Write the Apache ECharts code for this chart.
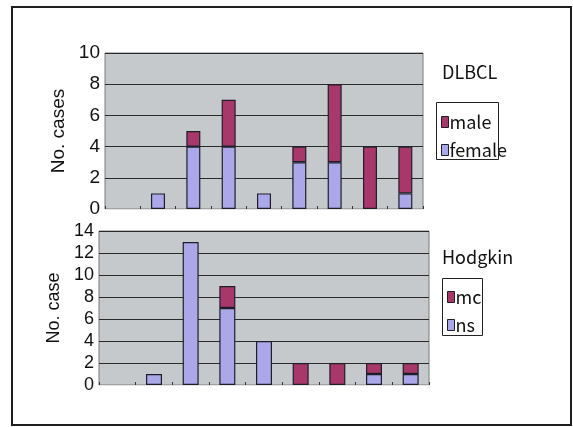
<!DOCTYPE html>
<html>
<head>
<meta charset="utf-8">
<script src="https://cdn.jsdelivr.net/npm/echarts@6/dist/echarts.min.js"></script>
<style>
  html, body { margin: 0; padding: 0; background: #fff; }
  #chart { width: 573px; height: 427px; }
</style>
</head>
<body>
<div id="chart"></div>
<script>
// Nine groups along the x axis (labels not shown)
const groups = ['1', '2', '3', '4', '5', '6', '7', '8', '9'];

// DLBCL cases by sex
const dlbclFemale = [0, 1, 4, 4, 1, 3, 3, 0, 1];
const dlbclMale   = [0, 0, 1, 3, 0, 1, 5, 4, 3];

// Hodgkin cases by subtype
const hodgkinNs = [0, 1, 13, 7, 4, 0, 0, 1, 1];
const hodgkinMc = [0, 0, 0, 2, 0, 2, 2, 1, 1];

const dlbclTicks = { min: 0, max: 10, interval: 2 };
const hodgkinTicks = { min: 0, max: 14, interval: 2 };

const MALE = '#a8386a';
const FEMALE = '#aaa8e8';
const PLOT_BG = '#c6c9cc';
const LABEL_FONT = '"Liberation Sans", Arial, sans-serif';
const TEXT_FONT = '"Noto Sans CJK JP", "Liberation Sans", sans-serif';

const chart = echarts.init(document.getElementById('chart'), null, { renderer: 'canvas' });

// empty counts are skipped so no zero-height outline is drawn
const nonZero = arr => arr.map(v => (v === 0 ? '-' : v));

function xAxisFor(gridIndex) {
  return {
    type: 'category',
    gridIndex,
    data: groups,
    boundaryGap: true,
    axisLine: { show: true, lineStyle: { color: '#e4e4e4', width: 1 } },
    axisTick: { show: true, inside: true, length: 3, interval: 0, lineStyle: { color: '#333' } },
    axisLabel: { show: false },
    splitLine: { show: false }
  };
}

function yAxisFor(gridIndex, ticks, name, fontSize, nameSize, nameGap) {
  return {
    type: 'value',
    gridIndex,
    min: ticks.min,
    max: ticks.max,
    interval: ticks.interval,
    name,
    nameLocation: 'middle',
    nameGap,
    nameTextStyle: { fontFamily: LABEL_FONT, fontSize: nameSize, color: '#111' },
    axisLine: { show: false },
    axisTick: { show: false },
    axisLabel: { fontFamily: LABEL_FONT, fontSize, color: '#111', margin: 5 },
    splitLine: { show: true, lineStyle: { color: '#2a2a2a', width: 1 } }
  };
}

function barSeries(name, data, color, axisIndex, stack, width) {
  return {
    type: 'bar',
    name,
    data: nonZero(data),
    stack,
    xAxisIndex: axisIndex,
    yAxisIndex: axisIndex,
    barWidth: width,
    itemStyle: { color, borderColor: '#1e1e2a', borderWidth: 1.2 },
    emphasis: { disabled: true },
    animation: false
  };
}

function legendAt(names, left, top) {
  return {
    data: names,
    orient: 'vertical',
    left,
    top,
    padding: 0,
    itemWidth: 7,
    itemHeight: 11,
    itemGap: 10,
    icon: 'rect',
    selectedMode: false,
    textStyle: { fontFamily: TEXT_FONT, fontSize: 18, color: '#111', lineHeight: 18, padding: [0, 0, 0, -4] },
    itemStyle: { borderColor: '#1e1e2a', borderWidth: 1 }
  };
}

chart.setOption({
  backgroundColor: '#fff',
  animation: false,
  title: [
    { text: 'DLBCL', left: 442, top: 63, padding: 0,
      textStyle: { fontFamily: TEXT_FONT, fontSize: 18, fontWeight: 'normal', color: '#111' } },
    { text: 'Hodgkin', left: 442, top: 248, padding: 0,
      textStyle: { fontFamily: TEXT_FONT, fontSize: 18, fontWeight: 'normal', color: '#111' } }
  ],
  legend: [
    legendAt(['male', 'female'], 441, 113),
    legendAt(['mc', 'ns'], 447, 288)
  ],
  grid: [
    { left: 105, top: 53, width: 318, height: 156, show: true,
      backgroundColor: PLOT_BG, borderColor: '#7a7a7a', borderWidth: 1 },
    { left: 99, top: 231, width: 330, height: 154, show: true,
      backgroundColor: PLOT_BG, borderColor: '#7a7a7a', borderWidth: 1 }
  ],
  xAxis: [xAxisFor(0), xAxisFor(1)],
  yAxis: [
    yAxisFor(0, dlbclTicks, 'No. cases', 19, 19, 26),
    yAxisFor(1, hodgkinTicks, 'No. case', 18, 18, 23)
  ],
  series: [
    barSeries('female', dlbclFemale, FEMALE, 0, 'dlbcl', 14),
    barSeries('male', dlbclMale, MALE, 0, 'dlbcl', 14),
    barSeries('ns', hodgkinNs, FEMALE, 1, 'hodgkin', 16),
    barSeries('mc', hodgkinMc, MALE, 1, 'hodgkin', 16)
  ],
  graphic: [
    // outer frame
    { type: 'rect', shape: { x: 12, y: 7, width: 559, height: 418 },
      style: { fill: null, stroke: '#1e1e1e', lineWidth: 2 }, silent: true, z: 100 },
    // legend boxes
    { type: 'rect', shape: { x: 436.5, y: 102.5, width: 62, height: 57 },
      style: { fill: null, stroke: '#222', lineWidth: 1 }, silent: true, z: 100 },
    { type: 'rect', shape: { x: 442.5, y: 278.5, width: 40, height: 57 },
      style: { fill: null, stroke: '#222', lineWidth: 1 }, silent: true, z: 100 }
  ]
});
</script>
</body>
</html>
